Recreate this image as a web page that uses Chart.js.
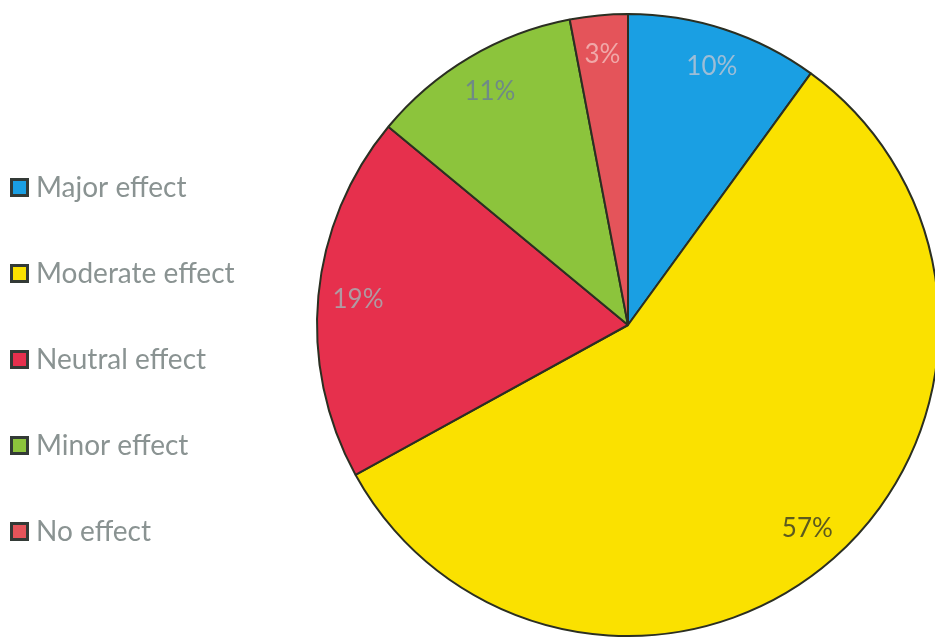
<!DOCTYPE html>
<html>
<head>
<meta charset="utf-8">
<script src="https://cdn.jsdelivr.net/npm/chart.js@4/dist/chart.umd.min.js"></script>
<style>
  html, body { margin: 0; padding: 0; background: #ffffff; overflow: hidden; width: 935px; height: 641px; }
  #wrap { position: absolute; left: 0; top: 0; width: 960px; height: 660px; }
</style>
</head>
<body>
<div id="wrap"><canvas id="c" width="960" height="660"></canvas></div>
<script>
const categories = ["Major effect", "Moderate effect", "Neutral effect", "Minor effect", "No effect"];
const values = [10, 57, 19, 11, 3];
const valueLabels = ["10%", "57%", "19%", "11%", "3%"];
const sliceColors = ["#1a9fe3", "#fae100", "#e6304d", "#8cc43c", "#e4545a"];
const labelColors = ["#9dbdd6", "#5c5a1e", "#b09aa2", "#6f8a86", "#f0a8a8"];

const sideLegend = {
  id: 'sideLegend',
  afterDraw(chart) {
    const ctx = chart.ctx;
    ctx.save();
    ctx.font = '28px Lato, "Open Sans", sans-serif';
    ctx.textBaseline = 'middle';
    ctx.textAlign = 'left';
    const y0 = 187, step = 86;
    categories.forEach((name, i) => {
      const y = y0 + i * step;
      ctx.fillStyle = '#333a36';
      ctx.fillRect(10, y - 9, 19, 19);
      ctx.fillStyle = sliceColors[i];
      ctx.fillRect(13, y - 6, 13, 13);
      ctx.fillStyle = '#8a9392';
      ctx.fillText(name, 36, y + 1);
    });
    ctx.restore();
  }
};

const sliceLabels = {
  id: 'sliceLabels',
  afterDatasetsDraw(chart) {
    const ctx = chart.ctx;
    const meta = chart.getDatasetMeta(0);
    ctx.save();
    ctx.font = '26px Lato, "Open Sans", sans-serif';
    ctx.textAlign = 'center';
    ctx.textBaseline = 'middle';
    meta.data.forEach((arc, i) => {
      const p = arc.getProps(['x', 'y', 'startAngle', 'endAngle', 'outerRadius'], true);
      const mid = (p.startAngle + p.endAngle) / 2;
      const r = p.outerRadius * 0.872;
      ctx.fillStyle = labelColors[i];
      ctx.fillText(valueLabels[i], p.x + Math.cos(mid) * r, p.y + Math.sin(mid) * r);
    });
    ctx.restore();
  }
};

new Chart(document.getElementById('c'), {
  type: 'pie',
  data: {
    labels: categories,
    datasets: [{
      data: values,
      backgroundColor: sliceColors,
      borderColor: '#2b2f22',
      borderWidth: 2
    }]
  },
  options: {
    responsive: false,
    animation: false,
    layout: { padding: { left: 316, right: 20, top: 13, bottom: 23 } },
    plugins: {
      legend: { display: false },
      tooltip: { enabled: false }
    }
  },
  plugins: [sideLegend, sliceLabels]
});
</script>
</body>
</html>
